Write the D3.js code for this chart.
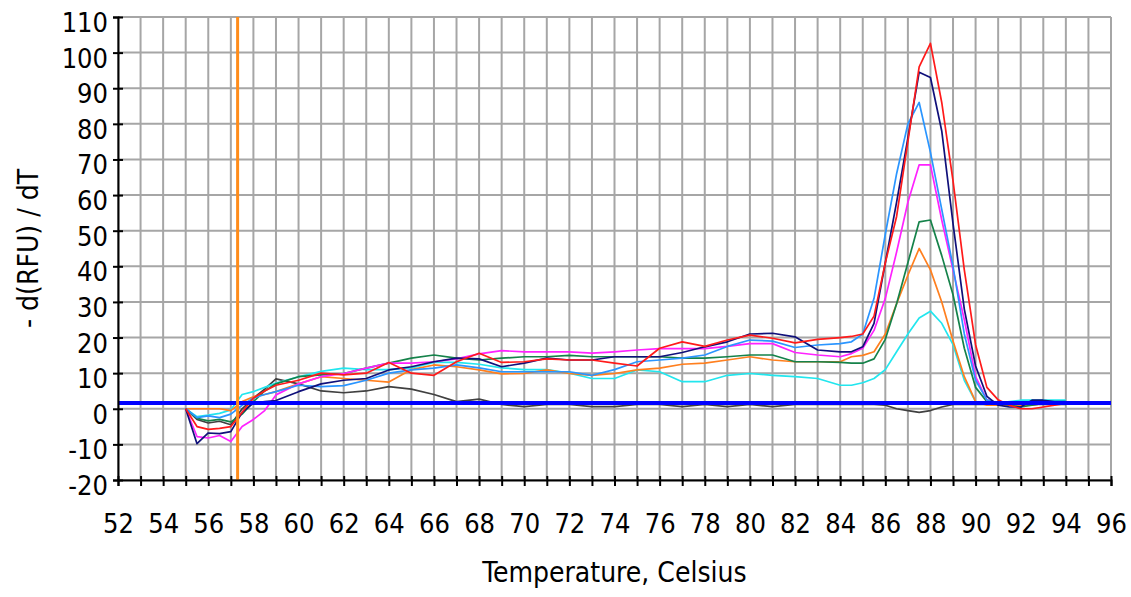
<!DOCTYPE html>
<html>
<head>
<meta charset="utf-8">
<script src="https://cdn.jsdelivr.net/npm/d3@7"></script>
<style>
  body { margin: 0; background: #fff; }
  svg { display: block; }
</style>
</head>
<body>
<div id="chart"></div>
<script>
// Define constants
const WIDTH = 1131;
const HEIGHT = 597;
const MARGIN = {top: 17, right: 20, bottom: 117, left: 118};
const PLOT_W = WIDTH - MARGIN.left - MARGIN.right;
const PLOT_H = HEIGHT - MARGIN.top - MARGIN.bottom;
const FONT = "'DejaVu Sans Condensed', 'DejaVu Sans', sans-serif";
const FONT_SIZE = "27px";
const COLOUR_GRID = "#a6a6a6";

// Temperature steps (Celsius) shared by every well
const temps = [55, 55.5, 56, 56.5, 57, 57.5, 58, 58.5, 59, 60, 61, 62, 63, 64, 65, 66, 67, 68, 69, 70,
               71, 72, 73, 74, 75, 76, 77, 78, 79, 80, 81, 82, 83, 84, 84.5, 85, 85.5, 86, 86.5, 87,
               87.5, 88, 88.5, 89, 89.5, 90, 90.5, 91, 91.5, 92, 92.5, 93, 93.5, 94];

// -d(RFU)/dT per well
const wellBlack   = [0, -3, -4, -3.5, -4.5, 0, 3, 5.5, 8.4, 7, 5, 4.5, 5, 6.2, 5.5, 4, 2, 2.7, 1.2, 0.6,
                     1.2, 1.2, 0.6, 0.6, 1.2, 1.2, 0.6, 1.2, 0.6, 1.2, 0.6, 1.2, 1.2, 1.2, 1.2, 1.2, 1.2, 1, 0, -0.5,
                     -1, -0.5, 0.5, 1.2, 1.2, 1.2, 1.2, 1.2, 1.2, 1.2, 1.2, 1.2, 1.2, 1.2];
const wellCyan    = [0, -2.2, -1.8, -1.3, -0.3, 4, 4.8, 6, 7.2, 9, 10.5, 11.4, 11, 11, 11.5, 13, 13, 12.5, 11.5, 11,
                     11, 10, 8.5, 8.5, 10.9, 10.4, 7.6, 7.6, 9.4, 9.9, 9.4, 9, 8.5, 6.6, 6.6, 7.3, 8.5, 11, 16, 21,
                     25.5, 27.4, 24, 18, 8, 2, 1.5, 1.5, 2, 2.4, 2.4, 2.4, 2.4, 2.4];
const wellOrange  = [0, 0, 0, 0, -0.5, 2, 3.4, 4, 4.8, 7, 9, 8.5, 8, 7.5, 11, 12.3, 11.8, 10.9, 9.8, 9.9,
                     10.9, 9.9, 9.4, 9.9, 10.9, 11.4, 12.5, 12.8, 13.7, 14.6, 13.7, 13.2, 13.2, 13.2, 14.6, 15, 16, 21, 29.5, 37.5,
                     45, 39, 30, 19, 9, 2, 1, 1, 1, 1, 1, 1.5, 1.5, 1.5];
const wellGreen   = [0, -2.7, -3.4, -3, -3.7, -1.5, 2, 5, 7, 9, 9.5, 9.9, 11.4, 12.8, 14.2, 15.1, 14.2, 13.7, 14.2, 14.6,
                     14.6, 15, 14.6, 14.6, 14.6, 14.6, 14.2, 14.2, 14.6, 15.1, 15.1, 13.2, 13.2, 13, 12.8, 12.8, 14, 19.5, 29.5, 41,
                     52.5, 53, 43, 32, 17, 6, 2, 1.5, 1, 0.5, 1, 1.5, 1.5, 1.5];
const wellMagenta = [0, -7.8, -8.2, -7.5, -9.2, -5, -3, -0.5, 3.9, 7, 9, 9.9, 11.4, 12.8, 12.8, 13.2, 14, 15.4, 16.3, 16,
                     16, 16, 15.6, 16, 16.5, 16.9, 16.9, 16.9, 17.5, 18.3, 18.3, 15.8, 15.1, 14.6, 15.5, 17, 22, 31, 44, 58,
                     68.5, 68.5, 53, 39, 25, 9, 2.5, 1.5, 1.5, 1.5, 1.5, 1.5, 1.5, 1.5];
const wellBlue    = [0, -2.5, -2, -2.5, -1.5, 1, 3, 4, 4.8, 6.6, 6.2, 6.5, 8, 10, 10.9, 11.4, 12.3, 11.5, 10.4, 10.4,
                     10.4, 10.4, 9.4, 11, 13.2, 13.7, 14.2, 15.1, 17.5, 19.3, 19, 17.2, 17.9, 18.3, 18.8, 21, 31, 49, 66, 80,
                     86, 72, 56, 40, 21, 8, 2.5, 1.5, 1.5, 1.5, 1.5, 1.5, 1.5, 1.5];
const wellNavy    = [0, -9.8, -6.8, -7, -6.4, -1, 1.6, 2, 2.3, 4.8, 7, 8, 8.5, 10.9, 11.8, 13.2, 14.2, 14, 11.8, 12.8,
                     14.2, 13.7, 13.7, 14.6, 14.6, 14.6, 15.8, 17.4, 18.8, 21, 21.2, 20.2, 16.5, 16, 16, 17.4, 24, 41, 58, 76,
                     94.5, 93, 78, 52, 28, 12, 3.5, 1, 0.5, 0.5, 2.4, 2.4, 2, 2];
const wellRed     = [0, -5, -5.8, -5.5, -5, -1, 3, 5, 6.6, 8, 10, 9.5, 10, 13, 10, 9.4, 13.2, 15.6, 13, 13.2,
                     14, 13.7, 13.7, 12.8, 12, 17, 18.8, 17.5, 19.3, 20.7, 19.8, 18.5, 19.5, 20, 20.3, 21, 26, 41, 54, 75,
                     96, 102.6, 86, 64, 39, 18, 6, 2.5, 1, 0, 0, 0.5, 1, 1.5];

// Melt marker and threshold positions
const MARKER_TEMP = 57.3;
const THRESHOLD = 1.6;

// Axis tick values
const xTicks = d3.range(52, 97, 1);
const xLabels = d3.range(52, 97, 2);
const yTicks = d3.range(-20, 111, 10);

// Build series table (draw order: last on top)
let wells = [
    {values: wellBlack,   colour: "#404040"},
    {values: wellCyan,    colour: "#22e6ee"},
    {values: wellOrange,  colour: "#ff7f1e"},
    {values: wellGreen,   colour: "#15824a"},
    {values: wellMagenta, colour: "#ff22ff"},
    {values: wellBlue,    colour: "#2a95ff"},
    {values: wellNavy,    colour: "#10107a"},
    {values: wellRed,     colour: "#ff1a1a"}
];

// Set up SVG canvas
let svg = d3.select("#chart")
            .append("svg")
            .attr("width", WIDTH)
            .attr("height", HEIGHT)
            .style("font-family", FONT);

let plot = svg.append("g")
              .attr("transform", `translate(${MARGIN.left}, ${MARGIN.top})`);

// Scales
let x = d3.scaleLinear().domain([52, 96]).range([0, PLOT_W]);
let y = d3.scaleLinear().domain([-20, 110]).range([PLOT_H, 0]);

// Grid lines
plot.append("g")
    .selectAll("line")
    .data(xTicks)
    .join("line")
    .attr("x1", d => x(d)).attr("x2", d => x(d))
    .attr("y1", 0).attr("y2", PLOT_H)
    .attr("stroke", COLOUR_GRID)
    .attr("stroke-width", 2);

plot.append("g")
    .selectAll("line")
    .data(yTicks)
    .join("line")
    .attr("x1", 0).attr("x2", PLOT_W)
    .attr("y1", d => y(d)).attr("y2", d => y(d))
    .attr("stroke", COLOUR_GRID)
    .attr("stroke-width", 2);

// Melt curves
let line = d3.line()
             .x((d, i) => x(temps[i]))
             .y(d => y(d));

plot.append("g")
    .selectAll("path")
    .data(wells)
    .join("path")
    .attr("fill", "none")
    .attr("stroke", d => d.colour)
    .attr("stroke-width", 1.7)
    .attr("stroke-linejoin", "round")
    .attr("d", d => line(d.values));

// Threshold line
plot.append("line")
    .attr("x1", 0).attr("x2", PLOT_W)
    .attr("y1", y(THRESHOLD)).attr("y2", y(THRESHOLD))
    .attr("stroke", "#0000ff")
    .attr("stroke-width", 4);

// Marker line
plot.append("line")
    .attr("x1", x(MARKER_TEMP)).attr("x2", x(MARKER_TEMP))
    .attr("y1", 0).attr("y2", PLOT_H)
    .attr("stroke", "#ff8c1a")
    .attr("stroke-width", 3);

// Axes
let xAxis = d3.axisBottom(x)
              .tickValues(xTicks)
              .tickSize(6)
              .tickFormat(d => xLabels.includes(d) ? String(d) : "");

let gx = plot.append("g")
             .attr("transform", `translate(0, ${PLOT_H})`)
             .call(xAxis);

gx.select(".domain").attr("stroke", "#000").attr("stroke-width", 2);
gx.selectAll(".tick line").attr("y1", -4).attr("y2", 6).attr("stroke", "#000").attr("stroke-width", 2);
gx.selectAll(".tick text")
  .attr("y", 53)
  .attr("dy", 0)
  .attr("fill", "#000")
  .style("font-size", FONT_SIZE)
  .style("font-family", FONT);

// plain hyphen for negatives, like the original
let yAxis = d3.axisLeft(y)
              .tickValues(yTicks)
              .tickSize(5)
              .tickFormat(d => String(d));

let gy = plot.append("g").call(yAxis);

gy.select(".domain").attr("stroke", "#000").attr("stroke-width", 2);
gy.selectAll(".tick line").attr("x1", 5).attr("x2", -5).attr("stroke", "#000").attr("stroke-width", 2);
gy.selectAll(".tick text")
  .attr("x", -10)
  .attr("y", 14.5)
  .attr("dy", 0)
  .attr("fill", "#000")
  .style("font-size", FONT_SIZE)
  .style("font-family", FONT);

// Axis titles
svg.append("text")
   .attr("x", MARGIN.left + PLOT_W / 2)
   .attr("y", 582)
   .attr("text-anchor", "middle")
   .style("font-size", "28px")
   .text("Temperature, Celsius");

svg.append("text")
   .attr("transform", `translate(38, ${MARGIN.top + PLOT_H / 2}) rotate(-90)`)
   .attr("text-anchor", "middle")
   .style("font-size", "28px")
   .text("- d(RFU) / dT");
</script>
</body>
</html>
